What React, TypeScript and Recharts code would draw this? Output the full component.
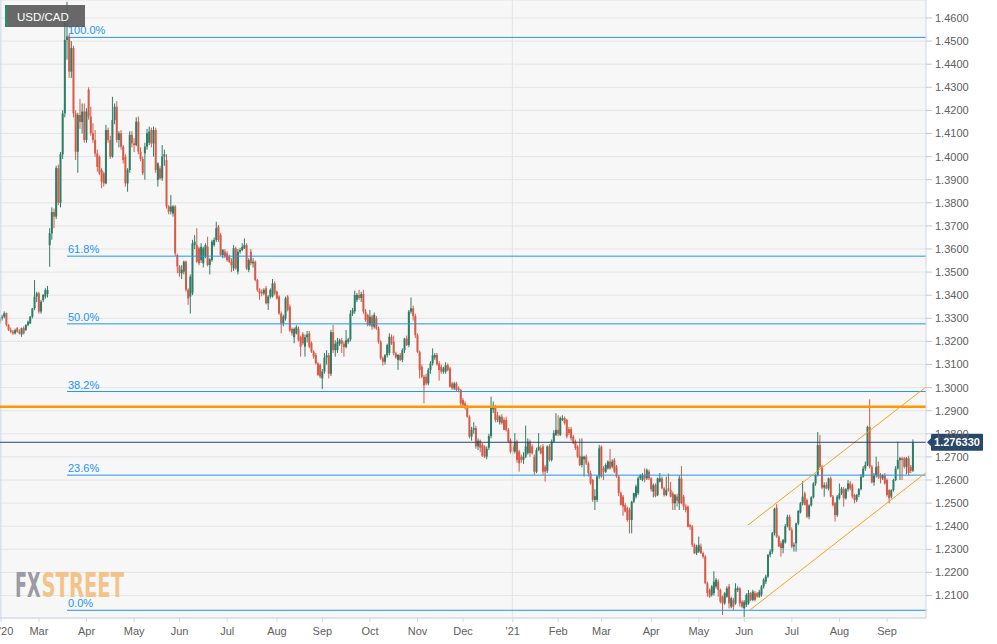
import React from 'react';
import { ComposedChart, Bar, XAxis, YAxis, CartesianGrid, ReferenceLine } from 'recharts';

type Candle = [number, number, number, number]; // open, high, low, close

const feb20: Candle[] = [
  [1.3285,1.3305,1.3275,1.3300],[1.3300,1.3315,1.3290,1.3307],[1.3307,1.3330,1.3300,1.3322],[1.3322,1.3325,1.3265,1.3271],
  [1.3271,1.3275,1.3245,1.3249],[1.3249,1.3260,1.3235,1.3242],[1.3242,1.3250,1.3228,1.3235],[1.3235,1.3255,1.3230,1.3249],
  [1.3257,1.3262,1.3238,1.3242],[1.3242,1.3252,1.3230,1.3235],[1.3230,1.3260,1.3220,1.3257],[1.3257,1.3265,1.3230,1.3235],
  [1.3250,1.3275,1.3245,1.3271],[1.3271,1.3290,1.3265,1.3285],[1.3278,1.3310,1.3275,1.3307],[1.3307,1.3345,1.3300,1.3343],
  [1.3343,1.3466,1.3335,1.3394],[1.3394,1.3415,1.3370,1.3408],
];
const mar20: Candle[] = [
  [1.3408,1.3415,1.3320,1.3329],[1.3329,1.3380,1.3320,1.3372],[1.3379,1.3405,1.3370,1.3401],[1.3394,1.3430,1.3385,1.3423],
  [1.3405,1.3440,1.3390,1.3423],[1.3617,1.3690,1.3523,1.3668],[1.3668,1.3780,1.3640,1.3760],[1.3760,1.3775,1.3690,1.3740],
  [1.3740,1.3960,1.3730,1.3950],[1.3950,1.3965,1.3790,1.3800],[1.3800,1.4020,1.3780,1.4010],[1.4010,1.4200,1.3990,1.4187],
  [1.4187,1.4600,1.4170,1.4505],[1.4505,1.4670,1.4420,1.4520],[1.4520,1.4530,1.4340,1.4368],[1.4368,1.4500,1.4340,1.4470],
  [1.4470,1.4480,1.4170,1.4187],[1.4187,1.4200,1.3985,1.4021],[1.4021,1.4190,1.3930,1.4180],[1.4180,1.4250,1.4120,1.4150],
  [1.4150,1.4230,1.4100,1.4195],[1.4195,1.4230,1.4060,1.4072],
];
const apr20: Candle[] = [
  [1.4072,1.4210,1.4060,1.4195],[1.4290,1.4300,1.4160,1.4173],[1.4173,1.4216,1.4090,1.4101],[1.4101,1.4144,1.4060,1.4072],
  [1.4072,1.4115,1.3999,1.4014],[1.4014,1.4030,1.3935,1.3956],[1.3999,1.4005,1.3920,1.3928],[1.3942,1.3950,1.3863,1.3891],
  [1.3928,1.3935,1.3870,1.3884],[1.3884,1.4137,1.3880,1.4115],[1.4115,1.4125,1.4060,1.4072],[1.4072,1.4090,1.3990,1.4000],
  [1.4000,1.4259,1.3995,1.4158],[1.4158,1.4230,1.4140,1.4216],[1.4216,1.4240,1.4060,1.4072],[1.4072,1.4110,1.4040,1.4101],
  [1.4101,1.4115,1.4030,1.4043],[1.4043,1.4050,1.3970,1.3985],[1.3999,1.4010,1.3870,1.3884],[1.3884,1.3950,1.3848,1.3942],
  [1.3942,1.4110,1.3930,1.4094],[1.4094,1.4110,1.4040,1.4057],
];
const may20: Candle[] = [
  [1.4057,1.4080,1.4020,1.4050],[1.4050,1.4170,1.4045,1.4151],[1.4151,1.4173,1.4010,1.4021],[1.4021,1.4040,1.3980,1.3990],
  [1.3990,1.4000,1.3920,1.3928],[1.4014,1.4060,1.3900,1.4043],[1.4043,1.4120,1.4030,1.4101],[1.4060,1.4130,1.4050,1.4108],
  [1.4115,1.4125,1.4040,1.4057],[1.4057,1.4130,1.4000,1.4115],[1.4115,1.4125,1.3930,1.3942],[1.3899,1.3975,1.3870,1.3971],
  [1.3949,1.3960,1.3900,1.3906],[1.3906,1.4050,1.3895,1.4000],[1.4000,1.4030,1.3960,1.4010],[1.3985,1.4010,1.3775,1.3784],
  [1.3784,1.3790,1.3750,1.3762],[1.3762,1.3834,1.3750,1.3784],[1.3754,1.3790,1.3740,1.3784],[1.3784,1.3790,1.3570,1.3581],
  [1.3574,1.3580,1.3495,1.3524],
];
const jun20: Candle[] = [
  [1.3524,1.3530,1.3480,1.3495],[1.3495,1.3530,1.3470,1.3510],[1.3502,1.3550,1.3490,1.3545],[1.3545,1.3550,1.3415,1.3423],
  [1.3423,1.3430,1.3358,1.3386],[1.3394,1.3490,1.3321,1.3480],[1.3408,1.3640,1.3400,1.3624],[1.3617,1.3660,1.3600,1.3632],
  [1.3617,1.3690,1.3540,1.3545],[1.3603,1.3610,1.3530,1.3538],[1.3552,1.3625,1.3540,1.3610],[1.3538,1.3610,1.3520,1.3603],
  [1.3567,1.3625,1.3560,1.3617],[1.3610,1.3653,1.3525,1.3531],[1.3531,1.3560,1.3490,1.3555],[1.3552,1.3640,1.3545,1.3632],
  [1.3617,1.3650,1.3610,1.3639],[1.3639,1.3718,1.3630,1.3690],[1.3697,1.3704,1.3630,1.3639],[1.3661,1.3670,1.3570,1.3574],
  [1.3574,1.3600,1.3560,1.3596],[1.3588,1.3600,1.3560,1.3567],
];
const jul20: Candle[] = [
  [1.3581,1.3590,1.3545,1.3552],[1.3567,1.3575,1.3540,1.3545],[1.3545,1.3560,1.3500,1.3530],[1.3516,1.3617,1.3505,1.3603],
  [1.3603,1.3610,1.3510,1.3516],[1.3502,1.3600,1.3490,1.3588],[1.3588,1.3605,1.3580,1.3596],[1.3596,1.3625,1.3590,1.3610],
  [1.3603,1.3646,1.3600,1.3617],[1.3617,1.3625,1.3510,1.3516],[1.3509,1.3560,1.3500,1.3552],[1.3588,1.3600,1.3530,1.3538],
  [1.3538,1.3560,1.3520,1.3545],[1.3545,1.3550,1.3460,1.3466],[1.3466,1.3470,1.3415,1.3423],[1.3423,1.3430,1.3380,1.3408],
  [1.3415,1.3425,1.3395,1.3408],[1.3408,1.3430,1.3400,1.3423],[1.3430,1.3440,1.3360,1.3365],[1.3365,1.3400,1.3336,1.3394],
  [1.3394,1.3430,1.3385,1.3423],[1.3394,1.3470,1.3390,1.3451],[1.3451,1.3460,1.3400,1.3408],
];
const aug20: Candle[] = [
  [1.3415,1.3420,1.3380,1.3386],[1.3394,1.3400,1.3315,1.3321],[1.3321,1.3330,1.3235,1.3278],[1.3278,1.3315,1.3265,1.3307],
  [1.3299,1.3394,1.3290,1.3386],[1.3394,1.3400,1.3330,1.3336],[1.3350,1.3360,1.3240,1.3247],[1.3254,1.3260,1.3225,1.3235],
  [1.3218,1.3260,1.3192,1.3254],[1.3235,1.3270,1.3230,1.3261],[1.3254,1.3265,1.3200,1.3204],[1.3218,1.3225,1.3134,1.3177],
  [1.3232,1.3240,1.3185,1.3192],[1.3177,1.3230,1.3134,1.3218],[1.3218,1.3245,1.3195,1.3230],[1.3235,1.3245,1.3170,1.3177],
  [1.3192,1.3200,1.3150,1.3156],[1.3156,1.3162,1.3125,1.3134],[1.3141,1.3150,1.3100,1.3105],[1.3105,1.3110,1.3050,1.3055],
  [1.3098,1.3105,1.3040,1.3048],
];
const sep20: Candle[] = [
  [1.3040,1.3080,1.2994,1.3070],[1.3070,1.3150,1.3060,1.3130],[1.3130,1.3162,1.3100,1.3140],[1.3140,1.3150,1.3040,1.3060],
  [1.3060,1.3250,1.3050,1.3240],[1.3240,1.3271,1.3150,1.3162],[1.3162,1.3205,1.3134,1.3190],[1.3162,1.3215,1.3150,1.3198],
  [1.3190,1.3212,1.3180,1.3205],[1.3205,1.3215,1.3150,1.3190],[1.3190,1.3200,1.3134,1.3176],[1.3176,1.3249,1.3170,1.3205],
  [1.3198,1.3215,1.3190,1.3209],[1.3209,1.3335,1.3200,1.3320],[1.3320,1.3345,1.3310,1.3335],[1.3330,1.3420,1.3320,1.3401],
  [1.3380,1.3410,1.3370,1.3401],[1.3401,1.3423,1.3380,1.3388],[1.3388,1.3415,1.3370,1.3405],[1.3405,1.3423,1.3320,1.3329],
  [1.3329,1.3340,1.3285,1.3293],[1.3315,1.3320,1.3265,1.3271],
];
const oct20: Candle[] = [
  [1.3271,1.3336,1.3265,1.3307],[1.3307,1.3315,1.3250,1.3264],[1.3264,1.3325,1.3255,1.3315],[1.3300,1.3310,1.3250,1.3256],
  [1.3256,1.3265,1.3190,1.3198],[1.3198,1.3205,1.3120,1.3127],[1.3127,1.3135,1.3095,1.3112],[1.3112,1.3145,1.3100,1.3140],
  [1.3140,1.3190,1.3130,1.3184],[1.3150,1.3235,1.3140,1.3220],[1.3220,1.3230,1.3185,1.3191],[1.3198,1.3225,1.3140,1.3148],
  [1.3148,1.3155,1.3125,1.3131],[1.3120,1.3145,1.3077,1.3141],[1.3141,1.3150,1.3115,1.3120],[1.3120,1.3170,1.3110,1.3162],
  [1.3162,1.3215,1.3150,1.3212],[1.3212,1.3225,1.3180,1.3184],[1.3184,1.3336,1.3175,1.3329],[1.3329,1.3390,1.3320,1.3343],
  [1.3343,1.3355,1.3290,1.3310],[1.3310,1.3320,1.3215,1.3227],
];
const nov20: Candle[] = [
  [1.3227,1.3235,1.3150,1.3155],[1.3155,1.3160,1.3040,1.3076],[1.3090,1.3100,1.3040,1.3047],[1.3047,1.3055,1.2932,1.3010],
  [1.3047,1.3060,1.3010,1.3018],[1.3018,1.3085,1.3010,1.3076],[1.3076,1.3115,1.3060,1.3105],[1.3105,1.3170,1.3095,1.3140],
  [1.3130,1.3150,1.3120,1.3141],[1.3141,1.3150,1.3095,1.3101],[1.3105,1.3115,1.3030,1.3076],[1.3090,1.3100,1.3060,1.3069],
  [1.3069,1.3090,1.3060,1.3083],[1.3069,1.3110,1.3060,1.3097],[1.3097,1.3105,1.3070,1.3076],[1.3083,1.3090,1.3000,1.3004],
  [1.3018,1.3025,1.2990,1.2997],[1.2997,1.3025,1.2990,1.3018],[1.3018,1.3025,1.2985,1.2990],[1.2997,1.3005,1.2980,1.2990],
  [1.2990,1.2995,1.2917,1.2932],
];
const dec20: Candle[] = [
  [1.2946,1.2955,1.2915,1.2925],[1.2932,1.2940,1.2905,1.2917],[1.2917,1.2925,1.2870,1.2874],[1.2874,1.2880,1.2780,1.2788],
  [1.2788,1.2830,1.2770,1.2817],[1.2817,1.2850,1.2800,1.2825],[1.2825,1.2835,1.2735,1.2745],[1.2745,1.2780,1.2730,1.2770],
  [1.2770,1.2775,1.2720,1.2740],[1.2752,1.2760,1.2700,1.2705],[1.2745,1.2750,1.2695,1.2701],[1.2701,1.2745,1.2690,1.2735],
  [1.2740,1.2800,1.2730,1.2790],[1.2790,1.2961,1.2780,1.2917],[1.2905,1.2940,1.2890,1.2917],[1.2917,1.2925,1.2850,1.2860],
  [1.2880,1.2895,1.2850,1.2860],[1.2850,1.2880,1.2840,1.2874],[1.2874,1.2885,1.2840,1.2846],[1.2860,1.2870,1.2815,1.2817],
  [1.2860,1.2874,1.2810,1.2817],[1.2817,1.2825,1.2760,1.2766],[1.2773,1.2780,1.2715,1.2723],
];
const jan21: Candle[] = [
  [1.2745,1.2755,1.2710,1.2723],[1.2723,1.2803,1.2715,1.2766],[1.2766,1.2775,1.2675,1.2687],[1.2723,1.2730,1.2636,1.2672],
  [1.2701,1.2710,1.2675,1.2687],[1.2687,1.2720,1.2670,1.2701],[1.2701,1.2835,1.2695,1.2745],[1.2716,1.2780,1.2710,1.2766],
  [1.2766,1.2775,1.2700,1.2716],[1.2745,1.2755,1.2710,1.2716],[1.2701,1.2710,1.2622,1.2636],[1.2636,1.2740,1.2630,1.2730],
  [1.2730,1.2803,1.2725,1.2745],[1.2738,1.2750,1.2710,1.2716],[1.2745,1.2755,1.2622,1.2636],[1.2658,1.2665,1.2593,1.2636],
  [1.2640,1.2750,1.2630,1.2745],[1.2745,1.2755,1.2680,1.2687],[1.2687,1.2775,1.2680,1.2766],[1.2766,1.2815,1.2760,1.2803],
  [1.2795,1.2889,1.2790,1.2817],
];
const feb21: Candle[] = [
  [1.2817,1.2880,1.2790,1.2800],[1.2795,1.2875,1.2790,1.2868],[1.2860,1.2880,1.2855,1.2868],[1.2868,1.2875,1.2840,1.2846],
  [1.2860,1.2865,1.2780,1.2788],[1.2820,1.2830,1.2795,1.2803],[1.2820,1.2830,1.2770,1.2781],[1.2788,1.2795,1.2755,1.2759],
  [1.2766,1.2775,1.2730,1.2738],[1.2745,1.2750,1.2695,1.2701],[1.2705,1.2780,1.2660,1.2665],[1.2665,1.2780,1.2655,1.2701],
  [1.2690,1.2705,1.2615,1.2701],[1.2701,1.2710,1.2665,1.2672],[1.2672,1.2680,1.2615,1.2630],[1.2630,1.2640,1.2580,1.2586],
  [1.2600,1.2605,1.2505,1.2514],[1.2514,1.2560,1.2470,1.2530],[1.2514,1.2620,1.2505,1.2615],[1.2615,1.2752,1.2605,1.2737],
];
const mar21: Candle[] = [
  [1.2745,1.2750,1.2610,1.2615],[1.2651,1.2660,1.2600,1.2636],[1.2636,1.2672,1.2630,1.2665],[1.2650,1.2685,1.2645,1.2680],
  [1.2680,1.2735,1.2645,1.2650],[1.2658,1.2690,1.2650,1.2680],[1.2687,1.2695,1.2630,1.2636],[1.2658,1.2665,1.2610,1.2615],
  [1.2615,1.2620,1.2530,1.2543],[1.2543,1.2550,1.2490,1.2492],[1.2528,1.2535,1.2445,1.2485],[1.2492,1.2500,1.2460,1.2463],
  [1.2478,1.2485,1.2420,1.2427],[1.2470,1.2480,1.2369,1.2427],[1.2427,1.2510,1.2369,1.2506],[1.2506,1.2545,1.2500,1.2543],
  [1.2528,1.2580,1.2520,1.2572],[1.2543,1.2615,1.2535,1.2608],[1.2608,1.2625,1.2600,1.2622],[1.2600,1.2630,1.2595,1.2622],
  [1.2622,1.2650,1.2590,1.2607],[1.2607,1.2650,1.2600,1.2643],[1.2636,1.2645,1.2600,1.2607],
];
const apr21: Candle[] = [
  [1.2607,1.2612,1.2550,1.2560],[1.2550,1.2585,1.2525,1.2578],[1.2578,1.2585,1.2525,1.2530],[1.2535,1.2610,1.2530,1.2607],
  [1.2593,1.2630,1.2590,1.2607],[1.2607,1.2615,1.2560,1.2564],[1.2564,1.2570,1.2528,1.2535],[1.2535,1.2614,1.2530,1.2557],
  [1.2564,1.2628,1.2550,1.2557],[1.2557,1.2592,1.2525,1.2528],[1.2542,1.2550,1.2470,1.2499],[1.2499,1.2540,1.2470,1.2535],
  [1.2528,1.2540,1.2485,1.2510],[1.2499,1.2620,1.2470,1.2607],[1.2607,1.2660,1.2495,1.2500],[1.2528,1.2535,1.2470,1.2485],
  [1.2485,1.2495,1.2460,1.2470],[1.2484,1.2490,1.2395,1.2398],[1.2405,1.2410,1.2384,1.2398],[1.2398,1.2405,1.2310,1.2319],
  [1.2319,1.2325,1.2280,1.2283],[1.2283,1.2320,1.2275,1.2312],
];
const may21: Candle[] = [
  [1.2290,1.2355,1.2285,1.2319],[1.2312,1.2325,1.2280,1.2283],[1.2283,1.2290,1.2260,1.2268],[1.2268,1.2275,1.2150,1.2153],
  [1.2153,1.2160,1.2095,1.2110],[1.2124,1.2130,1.2090,1.2095],[1.2103,1.2145,1.2095,1.2139],[1.2110,1.2205,1.2100,1.2160],
  [1.2139,1.2175,1.2130,1.2168],[1.2160,1.2170,1.2095,1.2124],[1.2124,1.2130,1.2066,1.2073],[1.2095,1.2100,1.2015,1.2066],
  [1.2066,1.2115,1.2060,1.2110],[1.2095,1.2140,1.2090,1.2131],[1.2139,1.2150,1.2044,1.2066],[1.2052,1.2095,1.2045,1.2088],
  [1.2081,1.2090,1.2037,1.2052],[1.2066,1.2153,1.2060,1.2131],[1.2124,1.2140,1.2115,1.2131],[1.2131,1.2135,1.2052,1.2066],
  [1.2073,1.2080,1.2045,1.2052],
];
const jun21: Candle[] = [
  [1.2045,1.2080,1.2007,1.2073],[1.2059,1.2110,1.2050,1.2102],[1.2066,1.2124,1.2060,1.2110],[1.2110,1.2115,1.2075,1.2081],
  [1.2081,1.2125,1.2075,1.2117],[1.2110,1.2120,1.2075,1.2081],[1.2110,1.2115,1.2090,1.2095],[1.2095,1.2125,1.2090,1.2117],
  [1.2103,1.2145,1.2095,1.2139],[1.2139,1.2175,1.2130,1.2168],[1.2160,1.2190,1.2150,1.2182],[1.2182,1.2280,1.2175,1.2276],
  [1.2276,1.2300,1.2265,1.2290],[1.2290,1.2375,1.2280,1.2370],[1.2370,1.2480,1.2360,1.2475],[1.2480,1.2495,1.2350,1.2355],
  [1.2355,1.2360,1.2310,1.2312],[1.2326,1.2335,1.2268,1.2305],[1.2305,1.2345,1.2283,1.2340],[1.2330,1.2410,1.2325,1.2400],
  [1.2400,1.2450,1.2395,1.2441],[1.2441,1.2450,1.2380,1.2384],
];
const jul21: Candle[] = [
  [1.2384,1.2395,1.2305,1.2312],[1.2312,1.2330,1.2290,1.2320],[1.2326,1.2415,1.2290,1.2412],[1.2412,1.2470,1.2405,1.2466],
  [1.2460,1.2505,1.2455,1.2499],[1.2499,1.2595,1.2490,1.2528],[1.2542,1.2550,1.2490,1.2492],[1.2513,1.2520,1.2435,1.2441],
  [1.2441,1.2495,1.2430,1.2490],[1.2490,1.2530,1.2485,1.2525],[1.2525,1.2590,1.2520,1.2585],[1.2585,1.2625,1.2575,1.2621],
  [1.2621,1.2808,1.2615,1.2751],[1.2751,1.2795,1.2650,1.2657],[1.2657,1.2665,1.2560,1.2567],[1.2567,1.2590,1.2528,1.2578],
  [1.2578,1.2590,1.2560,1.2563],[1.2563,1.2610,1.2555,1.2607],[1.2607,1.2615,1.2525,1.2528],[1.2528,1.2535,1.2485,1.2492],
  [1.2499,1.2505,1.2420,1.2448],[1.2448,1.2535,1.2440,1.2528],
];
const aug21: Candle[] = [
  [1.2521,1.2585,1.2515,1.2542],[1.2542,1.2570,1.2535,1.2563],[1.2560,1.2570,1.2485,1.2521],[1.2521,1.2565,1.2515,1.2560],
  [1.2560,1.2600,1.2550,1.2585],[1.2585,1.2595,1.2555,1.2563],[1.2578,1.2585,1.2520,1.2528],[1.2535,1.2540,1.2499,1.2513],
  [1.2513,1.2540,1.2505,1.2535],[1.2535,1.2565,1.2525,1.2560],[1.2560,1.2625,1.2555,1.2614],[1.2614,1.2660,1.2610,1.2650],
  [1.2650,1.2680,1.2640,1.2665],[1.2665,1.2835,1.2660,1.2830],[1.2830,1.2949,1.2650,1.2657],[1.2657,1.2665,1.2585,1.2590],
  [1.2590,1.2630,1.2575,1.2621],[1.2621,1.2701,1.2610,1.2657],[1.2660,1.2680,1.2605,1.2614],[1.2621,1.2630,1.2585,1.2607],
  [1.2607,1.2625,1.2600,1.2621],[1.2621,1.2630,1.2580,1.2585],
];
const sep21: Candle[] = [
  [1.2600,1.2607,1.2528,1.2535],[1.2556,1.2560,1.2499,1.2521],[1.2528,1.2560,1.2520,1.2556],[1.2556,1.2605,1.2550,1.2600],
  [1.2600,1.2660,1.2595,1.2650],[1.2650,1.2766,1.2645,1.2686],[1.2686,1.2700,1.2600,1.2694],[1.2694,1.2700,1.2600,1.2686],
  [1.2694,1.2700,1.2650,1.2657],[1.2657,1.2700,1.2625,1.2694],[1.2694,1.2705,1.2620,1.2630],[1.2657,1.2665,1.2630,1.2640],
  [1.2640,1.2776,1.2635,1.2763],
];

const monthLabels = ["'20", 'Mar', 'Apr', 'May', 'Jun', 'Jul', 'Aug', 'Sep', 'Oct', 'Nov', 'Dec', "'21", 'Feb', 'Mar', 'Apr', 'May', 'Jun', 'Jul', 'Aug', 'Sep'];
const monthCandles = [feb20, mar20, apr20, may20, jun20, jul20, aug20, sep20, oct20, nov20, dec20, jan21, feb21, mar21, apr21, may21, jun21, jul21, aug21, sep21];

const yTicks = [1.21, 1.22, 1.23, 1.24, 1.25, 1.26, 1.27, 1.28, 1.29, 1.30, 1.31, 1.32, 1.33, 1.34, 1.35, 1.36, 1.37, 1.38, 1.39, 1.40, 1.41, 1.42, 1.43, 1.44, 1.45, 1.46];
const fibLevels = [1.4516, 1.3569, 1.3276, 1.2983, 1.2621, 1.2036];
const fibLabels = ['100.0%', '61.8%', '50.0%', '38.2%', '23.6%', '0.0%'];
const fibStartIndex = 30.97;
const resistanceLevel = 1.2917;
const lastPrice = 1.27633;
const channelUpper = [{ x: 345.7, y: 1.2405 }, { x: 428, y: 1.3003 }];
const channelLower = [{ x: 346.6, y: 1.2037 }, { x: 428, y: 1.2632 }];
const yearBreakIndex = 236.8;

const UP = '#2e7d67';
const DOWN = '#d85a47';
const NAVY = '#29476b';
const FIB = '#2196f3';

const data: { i: number; o: number; h: number; l: number; c: number; range: [number, number] }[] = [];
const tickIdx: number[] = [];
{
  let idx = 0;
  monthCandles.forEach((rows, m) => {
    tickIdx.push(m === 0 ? 0.5 : idx);
    rows.forEach((r) => {
      data.push({ i: idx, o: r[0], h: r[1], l: r[2], c: r[3], range: [r[2], r[1]] });
      idx++;
    });
  });
}

const renderCandle = (props: any) => {
  const { x, y, width, height, payload } = props;
  if (x == null || y == null || !payload) return <g />;
  const cx = x + (width || 0) / 2;
  const top = Math.min(y, y + height);
  const hgt = Math.abs(height);
  const { o, h, l, c } = payload;
  const span = h - l;
  const k = span > 0 ? hgt / span : 0;
  const yO = top + (h - o) * k;
  const yC = top + (h - c) * k;
  const color = c >= o ? UP : DOWN;
  const bTop = Math.min(yO, yC);
  const bH = Math.max(Math.abs(yC - yO), 1);
  return (
    <g>
      <line x1={cx} x2={cx} y1={top} y2={top + hgt} stroke={color} strokeWidth={1} />
      <rect x={cx - 1} y={bTop} width={2} height={bH} fill={color} />
    </g>
  );
};

const renderXTick = (props: any) => {
  const { x, y, payload } = props;
  const k = tickIdx.indexOf(payload.value);
  const label = k >= 0 ? monthLabels[k] : '';
  return (
    <text x={x + (k === 0 ? 5 : 0)} y={y} dy="0.71em" textAnchor="middle" fill="#606060" fontSize={11}>
      {label}
    </text>
  );
};

const fibLabel = (text: string) => (props: any) => {
  const vb = props.viewBox || { x: 0, y: 0 };
  return (
    <text x={vb.x + 1} y={vb.y - 3} fill={FIB} fontSize={11}>
      {text}
    </text>
  );
};

const priceTag = (props: any) => {
  const vb = props.viewBox || { x: 0, y: 0, width: 0 };
  const x0 = vb.x + vb.width + 5;
  const yc = vb.y;
  return (
    <g>
      <path d={`M${x0 - 4},${yc} L${x0},${yc - 4} L${x0},${yc + 4} Z`} fill={NAVY} />
      <rect x={x0} y={yc - 8.5} width={52} height={17} rx={1} fill={NAVY} />
      <text x={x0 + 26} y={yc + 4} textAnchor="middle" fill="#ffffff" fontSize={11} fontWeight="bold">
        {lastPrice.toFixed(6)}
      </text>
    </g>
  );
};

export default function App() {
  return (
    <div style={{ position: 'absolute', left: 0, top: 0, width: 997, height: 644, background: '#ffffff', fontFamily: '"Liberation Sans", Arial, sans-serif' }}>
      <ComposedChart width={997} height={644} data={data} margin={{ top: 0, right: 0, bottom: 0, left: 0 }}>
        <CartesianGrid vertical={false} stroke="#e4e4e4" fill="#f7f7f7" />
        <XAxis
          type="number"
          dataKey="i"
          domain={[0, 428]}
          allowDataOverflow
          ticks={tickIdx}
          interval={0}
          tick={renderXTick}
          tickSize={4}
          tickMargin={5}
          tickLine={{ stroke: '#ccd6eb' }}
          axisLine={{ stroke: '#ccd6eb' }}
          height={26}
        />
        <YAxis
          type="number"
          orientation="right"
          domain={[1.20026, 1.467792]}
          allowDataOverflow
          ticks={yTicks}
          interval={0}
          tickFormatter={(v: number) => v.toFixed(4)}
          tick={{ fontSize: 11, fill: '#606060' }}
          tickSize={6}
          tickMargin={3}
          tickLine={{ stroke: '#c8c8c8' }}
          axisLine={{ stroke: '#ccd6eb' }}
          width={71}
        />
        <ReferenceLine x={yearBreakIndex} stroke="#e4e4e4" />
        <ReferenceLine x={0.4} stroke="#ccd6eb" />
        <Bar dataKey="range" shape={renderCandle} barSize={2} isAnimationActive={false} />
        {fibLevels.map((lv, k) => (
          <ReferenceLine
            key={fibLabels[k]}
            segment={[{ x: fibStartIndex, y: lv }, { x: 428, y: lv }]}
            stroke={FIB}
            strokeWidth={1}
            label={fibLabel(fibLabels[k])}
          />
        ))}
        <ReferenceLine y={resistanceLevel} stroke="#ff9800" strokeWidth={2.5} />
        <ReferenceLine segment={channelUpper} stroke="#f7a21b" strokeWidth={1} />
        <ReferenceLine segment={channelLower} stroke="#f7a21b" strokeWidth={1} />
        <ReferenceLine y={lastPrice} stroke={NAVY} strokeWidth={1} label={priceTag} />
      </ComposedChart>
      <svg width={997} height={644} style={{ position: 'absolute', left: 0, top: 0, pointerEvents: 'none' }}>
        <rect x={5} y={5} width={80} height={22} fill="rgba(88,88,88,0.9)" />
        <rect x={5} y={5} width={2.5} height={22} fill="#2e8b6e" />
        <text x={17} y={20.5} fill="#ffffff" fontSize={11.5} fontWeight={500}>USD/CAD</text>
        <text x={15} y={597} fontFamily='"DejaVu Sans Condensed", "DejaVu Sans", sans-serif' fontWeight="bold" fontSize={33} fill="#9b9ba6" textLength={25.5} lengthAdjust="spacingAndGlyphs">FX</text>
        <text x={41.5} y={597} fontFamily='"DejaVu Sans Condensed", "DejaVu Sans", sans-serif' fontWeight="bold" fontSize={33} fill="#f3c48a" textLength={82.5} lengthAdjust="spacingAndGlyphs">STREET</text>
      </svg>
    </div>
  );
}
